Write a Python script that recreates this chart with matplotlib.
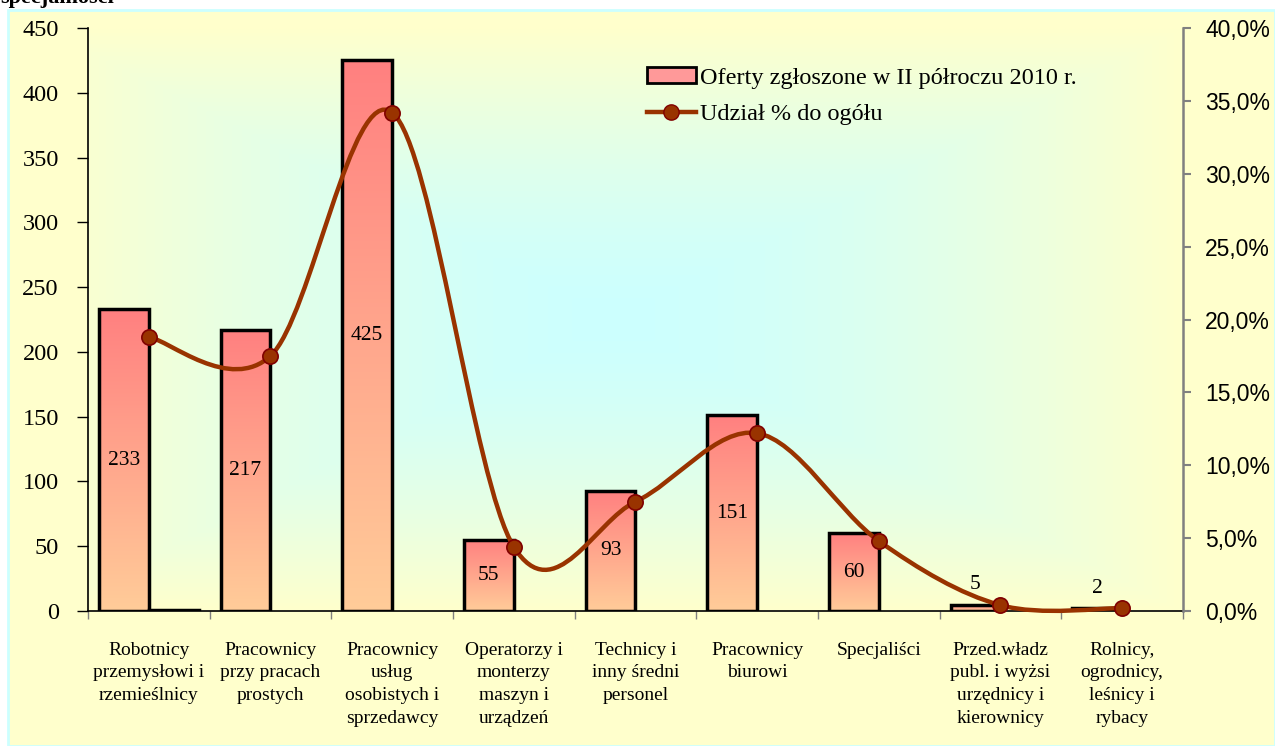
import numpy as np
import matplotlib
matplotlib.use("Agg")
import matplotlib.pyplot as plt
from matplotlib.patches import Rectangle, Patch, PathPatch
from matplotlib.lines import Line2D
from matplotlib.path import Path

# ---------------- data ----------------
categories = [
    "Robotnicy\nprzemysłowi i\nrzemieślnicy",
    "Pracownicy\nprzy pracach\nprostych",
    "Pracownicy\nusług\nosobistych i\nsprzedawcy",
    "Operatorzy i\nmonterzy\nmaszyn i\nurządzeń",
    "Technicy i\ninny średni\npersonel",
    "Pracownicy\nbiurowi",
    "Specjaliści",
    "Przed.władz\npubl. i wyżsi\nurzędnicy i\nkierownicy",
    "Rolnicy,\nogrodnicy,\nleśnicy i\nrybacy",
]
oferty = [233, 217, 425, 55, 93, 151, 60, 5, 2]
udzial = [18.8, 17.5, 34.2, 4.4, 7.5, 12.2, 4.8, 0.4, 0.2]
druga_seria = [1, 0, 0, 0, 0, 0, 0, 0, 0]
left_ticks = [0, 50, 100, 150, 200, 250, 300, 350, 400, 450]
right_ticks = [0, 5, 10, 15, 20, 25, 30, 35, 40]
legend_labels = ["Oferty zgłoszone w II półroczu 2010 r.", "Udział % do ogółu"]

W, H = 1275, 746
fig = plt.figure(figsize=(W / 100, H / 100), dpi=100)
fig.patch.set_facecolor("white")

serif = ["Liberation Serif", "DejaVu Serif"]
sans = ["Liberation Sans", "DejaVu Sans"]

# chart area background with cyan border
fig.patches.append(Rectangle((8 / W, 0), (W - 8) / W, (H - 10) / H, transform=fig.transFigure,
                             facecolor="#FFFFCC", edgecolor="#CCFFFF", lw=2, zorder=-10))
# clipped title at top (cut off in the reference as well)
fig.text(0 / W, 1 - 3 / H, "specjalności", fontsize=16, fontweight="bold", family=serif,
         ha="left", va="baseline", color="black")

L, R, B, T = 88, 1183, 611, 28
ax = fig.add_axes([L / W, (H - B) / H, (R - L) / W, (B - T) / H])
ax.patch.set_visible(False)

n = len(categories)

# plot area gradient (rectangular, from center)
gy, gx = np.mgrid[0:1:300j, 0:1:600j]
t = np.maximum(np.abs(gx - 0.48) / 0.52, np.abs(gy - 0.5) / 0.5)
t = np.clip(t, 0, 1) ** 1.5
c_center = np.array([204, 255, 255]) / 255
c_edge = np.array([255, 255, 204]) / 255
img = c_center[None, None, :] * (1 - t[..., None]) + c_edge[None, None, :] * t[..., None]
ax.imshow(img, extent=[0, 1, 0, 1], transform=ax.transAxes, aspect="auto", zorder=0, origin="lower")

# bars
bw = 0.41
x_centers = np.arange(n) + 0.5
top_c = np.array([255, 128, 128]) / 255
bot_c = np.array([255, 204, 153]) / 255
grad = np.linspace(0, 1, 256)[:, None]
bar_img = bot_c[None, None, :] * (1 - grad[..., None]) + top_c[None, None, :] * grad[..., None]

bars = ax.bar(x_centers - bw / 2, oferty, width=bw, facecolor="none", edgecolor="black",
              linewidth=2.5, zorder=3)
for b in bars:
    x0, y0 = b.get_x(), b.get_y()
    w, h = b.get_width(), b.get_height()
    im = ax.imshow(bar_img, extent=[x0, x0 + w, y0, y0 + h], aspect="auto", origin="lower", zorder=2)
    im.set_clip_path(Rectangle((x0, y0), w, h, transform=ax.transData))

for i, v in enumerate(druga_seria):
    if v > 0:
        ax.bar(x_centers[i] + bw / 2, v, width=bw, facecolor="none", edgecolor="black",
               linewidth=2.5, zorder=3)
ax.set_xlim(0, n)
ax.set_ylim(0, 450)

# bar labels
for i, v in enumerate(oferty):
    xc = x_centers[i] - bw / 2
    if v > 30:
        ax.text(xc, v / 2, str(v), ha="center", va="center", fontsize=15.5, family=serif, zorder=6)
    else:
        ax.text(xc, v + 8, str(v), ha="center", va="bottom", fontsize=15.5, family=serif, zorder=6)

# axes styling
ax.set_yticks(left_ticks)
ax.set_yticklabels([str(v) for v in left_ticks], family=serif, fontsize=17.5)
ax.tick_params(axis="y", direction="out", length=8, width=1, pad=13, colors="black")
ax.set_xticks(x_centers)
ax.set_xticklabels(categories, family=serif, fontsize=14, linespacing=1.44, va="top")
ax.tick_params(axis="x", which="major", length=0, pad=22)
ax.set_xticks(np.arange(n + 1), minor=True)
ax.tick_params(axis="x", which="minor", direction="out", length=6, width=1, color="#808080")
ax.spines["top"].set_visible(False)
ax.spines["right"].set_visible(False)
ax.spines["left"].set_color("black")
ax.spines["bottom"].set_color("black")
ax.spines["left"].set_linewidth(1.2)
ax.spines["bottom"].set_linewidth(1.2)

# secondary axis with smoothed line
ax2 = ax.twinx()
ax2.set_ylim(0, 40)
ax2.set_xlim(0, n)
ax2.set_yticks(right_ticks)
ax2.set_yticklabels([f"{v:.1f}%".replace(".", ",") for v in right_ticks], family=sans, fontsize=16.5)
ax2.tick_params(axis="y", direction="out", length=6, width=1.5, pad=10, color="#808080")
for s in ["top", "left", "bottom"]:
    ax2.spines[s].set_visible(False)
ax2.spines["right"].set_color("#808080")
ax2.spines["right"].set_linewidth(1.8)

# Excel-style smoothing (Catmull-Rom as cubic Bezier) through the data points
P = np.column_stack([x_centers, np.array(udzial)])
verts = [tuple(P[0])]
codes = [Path.MOVETO]
for i in range(len(P) - 1):
    p0 = P[i - 1] if i > 0 else P[i]
    p1, p2 = P[i], P[i + 1]
    p3 = P[i + 2] if i + 2 < len(P) else P[i + 1]
    c1 = p1 + (p2 - p0) / 6
    c2 = p2 - (p3 - p1) / 6
    verts += [tuple(c1), tuple(c2), tuple(p2)]
    codes += [Path.CURVE4] * 3
ax2.add_patch(PathPatch(Path(verts, codes), facecolor="none", edgecolor="#993300", lw=3.2,
                        zorder=4, capstyle="round", joinstyle="round", clip_on=False))
ax2.plot(x_centers, udzial, linestyle="none", marker="o", markersize=11,
         markerfacecolor="#993300", markeredgecolor="#800000", markeredgewidth=1.2, zorder=5,
         clip_on=False)

# legend
h1 = Patch(facecolor="#FF9999", edgecolor="black", linewidth=2)
h2 = Line2D([0], [0], color="#993300", lw=3.2, marker="o", markersize=11,
            markerfacecolor="#993300", markeredgecolor="#800000")
leg = ax2.legend([h1, h2], legend_labels, loc="upper left",
                 bbox_to_anchor=(630 / W, (H - 50) / H), bbox_transform=fig.transFigure,
                 frameon=False, prop={"family": serif, "size": 17.5}, handlelength=2.0,
                 handleheight=0.65, handletextpad=0.2, labelspacing=0.6, borderpad=0.2)

fig.savefig("out.png", dpi=100)
